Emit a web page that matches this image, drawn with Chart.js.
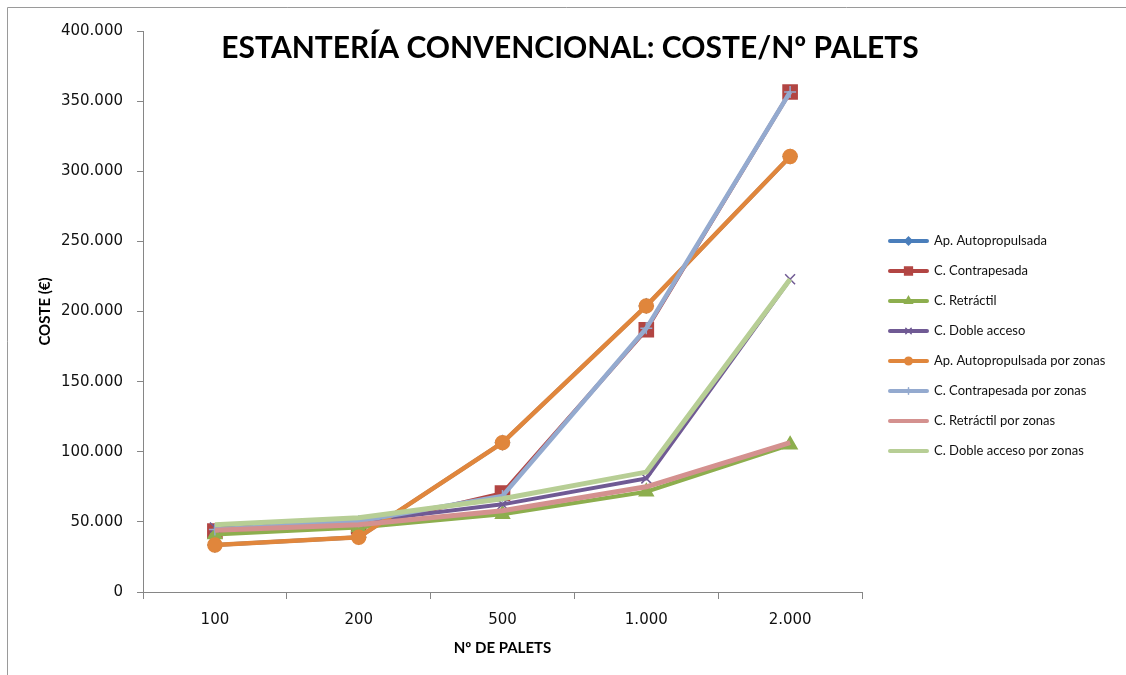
<!DOCTYPE html>
<html>
<head>
<meta charset="utf-8">
<title>Estantería convencional</title>
<script src="https://cdn.jsdelivr.net/npm/chart.js"></script>
<style>
  html, body { margin: 0; padding: 0; background: #fff; overflow: hidden; }
</style>
</head>
<body>
<canvas id="grafico" width="1126" height="675"></canvas>
<script>
// Nº de palets (categorias del eje X)
const palets = ['100', '200', '500', '1.000', '2.000'];

// coste (€) por serie
const apAutopropulsada       = [33500, 39000, 106500, 204000, 310500];
const cContrapesada          = [43500, 46500, 70500, 187000, 356500];
const cRetractil             = [41000, 46000, 55500, 71500, 105000];
const cDobleAcceso           = [46000, 50000, 62500, 81000, 223000];
const apAutopropulsadaZonas  = [33500, 39000, 106500, 204000, 310500];
const cContrapesadaZonas     = [44500, 50500, 68500, 188000, 356500];
const cRetractilZonas        = [44000, 48000, 58000, 75000, 106500];
const cDobleAccesoZonas      = [48000, 53000, 66500, 85500, 223000];

const ejeY = [0, 400000, 50000]; // min, max, paso

function miles(v) {
    return String(v).replace(/\B(?=(\d{3})+(?!\d))/g, '.');
}

function serie(label, data, color, ancho, estilo, radio) {
    return {
        label: label,
        data: data,
        borderColor: color,
        backgroundColor: color,
        borderWidth: ancho,
        pointStyle: estilo,
        pointRadius: radio,
        pointBorderColor: color,
        pointBackgroundColor: color,
        pointBorderWidth: 1.5,
        tension: 0,
        fill: false
    };
}

const datasets = [
    serie('Ap. Autopropulsada', apAutopropulsada, '#4A7EBB', 4, 'rectRot', 7),
    serie('C. Contrapesada', cContrapesada, '#B24543', 4, 'rect', 10),
    serie('C. Retráctil', cRetractil, '#8DAE4E', 4, 'triangle', 8),
    serie('C. Doble acceso', cDobleAcceso, '#705A94', 4, 'crossRot', 7),
    serie('Ap. Autopropulsada por zonas', apAutopropulsadaZonas, '#E0863C', 4.5, 'circle', 7),
    serie('C. Contrapesada por zonas', cContrapesadaZonas, '#94AACF', 4.5, 'cross', 6),
    serie('C. Retráctil por zonas', cRetractilZonas, '#D4918F', 5, 'circle', 0),
    serie('C. Doble acceso por zonas', cDobleAccesoZonas, '#B7CE95', 5, 'circle', 0)
];
// como en Excel: la ultima serie queda encima
datasets.forEach((d, i) => d.order = datasets.length - i);

const gris = '#868686';
const fuenteTicks = { family: 'DejaVu Sans', size: 15 };
const fuenteTitulos = { family: 'Lato', size: 15, weight: 'bold' };

const marco = {
    id: 'marco',
    beforeDraw(chart) {
        const ctx = chart.ctx;
        ctx.save();
        ctx.strokeStyle = '#9a9a9a';
        ctx.lineWidth = 1;
        ctx.beginPath();
        ctx.moveTo(7.5, chart.height);
        ctx.lineTo(7.5, 7.5);
        ctx.lineTo(chart.width, 7.5);
        ctx.stroke();
        ctx.restore();
    }
};

const titulo = {
    id: 'titulo',
    afterDraw(chart) {
        const ctx = chart.ctx;
        ctx.save();
        ctx.fillStyle = '#000';
        ctx.font = 'bold 30px Lato';
        ctx.textAlign = 'center';
        ctx.textBaseline = 'middle';
        ctx.fillText('ESTANTERÍA CONVENCIONAL: COSTE/Nº PALETS', 570, 48);
        ctx.restore();
    }
};

const leyenda = {
    id: 'leyenda',
    afterDraw(chart) {
        const ctx = chart.ctx;
        const x0 = chart.chartArea.right + 28;
        ctx.save();
        chart.data.datasets.forEach((ds, i) => {
            const y = 241 + i * 30;
            ctx.strokeStyle = ds.borderColor;
            ctx.lineWidth = 4;
            ctx.lineCap = 'round';
            ctx.beginPath();
            ctx.moveTo(x0, y);
            ctx.lineTo(x0 + 37, y);
            ctx.stroke();
            if (ds.pointRadius > 0) {
                ctx.fillStyle = ds.pointBackgroundColor;
                ctx.strokeStyle = ds.pointBorderColor;
                ctx.lineWidth = 1.5;
                Chart.helpers.drawPoint(ctx, {
                    pointStyle: ds.pointStyle,
                    radius: ds.pointRadius * 0.55,
                    borderWidth: 1.5,
                    rotation: 0
                }, x0 + 18.5, y);
            }
            ctx.fillStyle = '#111';
            ctx.font = '13px Lato';
            ctx.textAlign = 'left';
            ctx.textBaseline = 'middle';
            ctx.fillText(ds.label, x0 + 44, y);
        });
        ctx.restore();
    }
};

new Chart(document.getElementById('grafico'), {
    type: 'line',
    data: { labels: palets, datasets: datasets },
    plugins: [marco, titulo, leyenda],
    options: {
        responsive: false,
        animation: false,
        layout: { padding: { left: 30, right: 264, top: 31, bottom: 0 } },
        plugins: {
            legend: { display: false },
            title: { display: false },
            tooltip: { enabled: false }
        },
        scales: {
            x: {
                offset: true,
                grid: { offset: true, drawOnChartArea: false, tickLength: 7, color: gris },
                border: { color: gris },
                ticks: { font: fuenteTicks, color: '#111', padding: 12, maxRotation: 0 },
                title: { display: true, text: 'Nº DE PALETS', font: fuenteTitulos, color: '#000', padding: { top: 0, bottom: 18 } },
                afterFit(s) { s.height = 83; }
            },
            y: {
                min: ejeY[0],
                max: ejeY[1],
                grid: { drawOnChartArea: false, tickLength: 6, color: gris },
                border: { color: gris },
                ticks: { stepSize: ejeY[2], font: fuenteTicks, color: '#111', padding: 14, callback: v => miles(v) },
                title: { display: true, text: 'COSTE (€)', font: fuenteTitulos, color: '#000', padding: { top: 6, bottom: 0 } },
                afterFit(s) { s.width = 113; }
            }
        }
    }
});
</script>
</body>
</html>
